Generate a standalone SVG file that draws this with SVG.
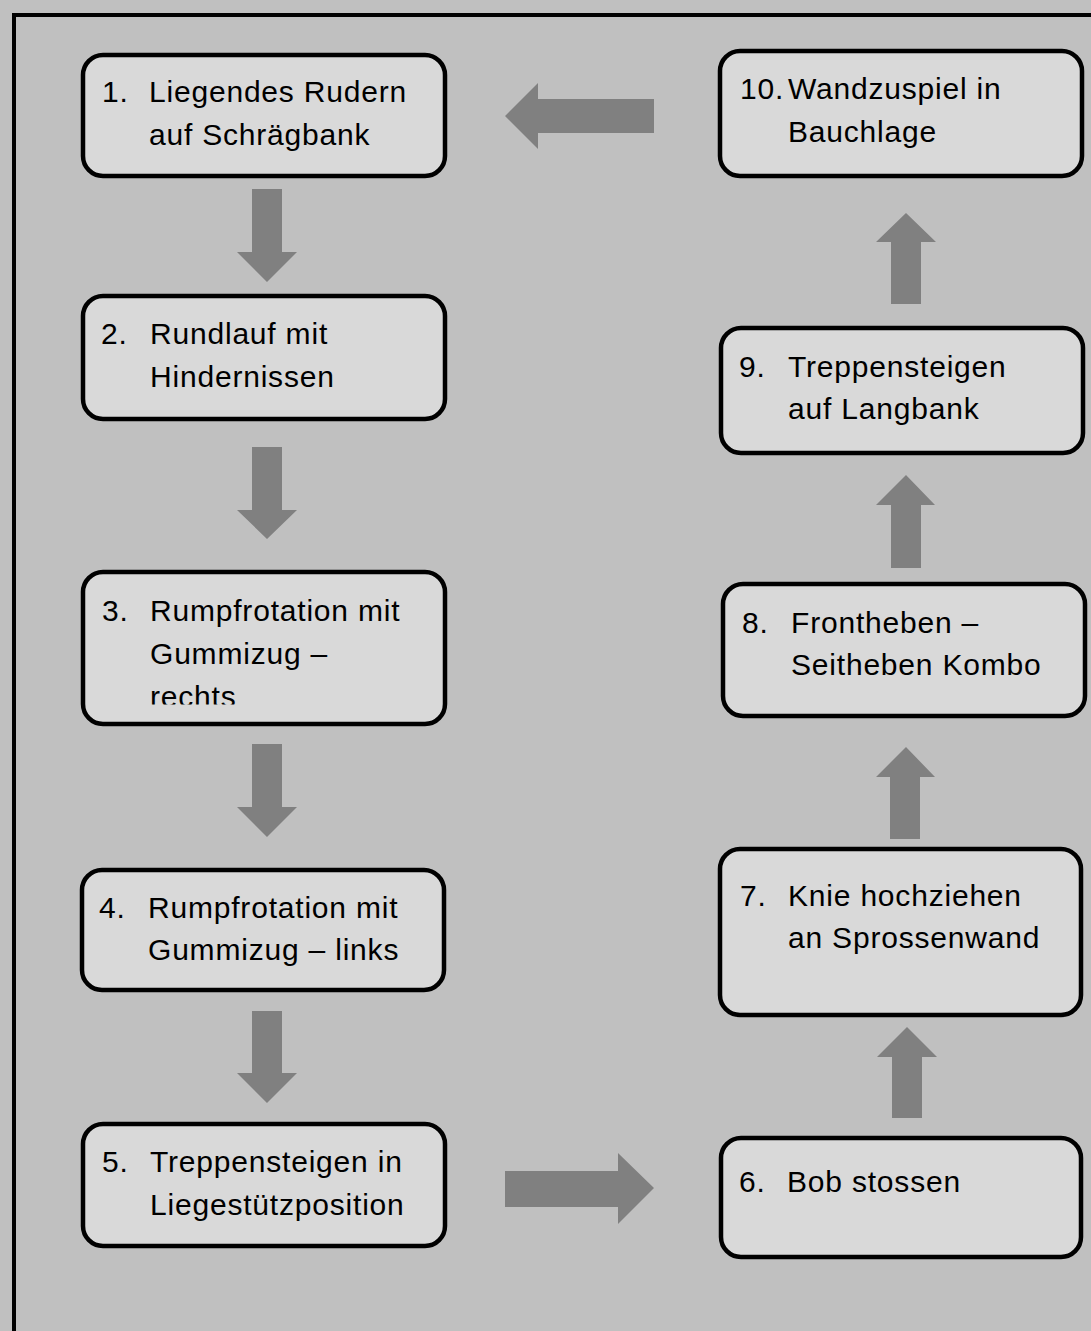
<svg xmlns="http://www.w3.org/2000/svg" width="1091" height="1331" viewBox="0 0 1091 1331">
<style>
.bg{fill:#c0c0c0}
.frame{fill:none;stroke:#000;stroke-width:4}
.box{fill:#d9d9d9;stroke:#000;stroke-width:4.5}
.t{font-family:"Liberation Sans",Arial,sans-serif;font-size:30px;fill:#000;letter-spacing:0.8px}
.arr{fill:#808080}
</style>
<defs>
<clipPath id="clip3"><rect x="83" y="572" width="362" height="132.5"/></clipPath>
</defs>
<rect class="bg" x="0" y="0" width="1091" height="1331"/>
<path class="frame" d="M14,1335 V15 H1095"/>
<g id="connectors">
<polygon class="arr" points="252,189 282,189 282,252 297,252 267,282 237,252 252,252"/>
<polygon class="arr" points="252,447 282,447 282,510 297,510 267,539 237,510 252,510"/>
<polygon class="arr" points="252,744 282,744 282,807 297,807 267,837 237,807 252,807"/>
<polygon class="arr" points="252,1011 282,1011 282,1073 297,1073 267,1103 237,1073 252,1073"/>
<polygon class="arr" points="505,1171 618,1171 618,1153 654,1188 618,1224 618,1207 505,1207"/>
<polygon class="arr" points="892,1118 922,1118 922,1057 937,1057 907,1027 877,1057 892,1057"/>
<polygon class="arr" points="890,839 920,839 920,777 935,777 906,747 876,777 890,777"/>
<polygon class="arr" points="891,568 921,568 921,505 935,505 906,475 876,505 891,505"/>
<polygon class="arr" points="891,304 921,304 921,242 936,242 906,213 876,242 891,242"/>
<polygon class="arr" points="654,99 538,99 538,83 505,116 538,149 538,133 654,133"/>
</g>
<g id="node1">
<rect class="box" x="83" y="55" width="362" height="121" rx="20"/>
<text class="t" x="102" y="102">1.</text>
<text class="t" x="149" y="102">Liegendes Rudern</text>
<text class="t" x="149" y="145">auf Schrägbank</text>
</g>
<g id="node2">
<rect class="box" x="83" y="296" width="362" height="123" rx="20"/>
<text class="t" x="101" y="344">2.</text>
<text class="t" x="150" y="344">Rundlauf mit</text>
<text class="t" x="150" y="387">Hindernissen</text>
</g>
<g id="node3">
<rect class="box" x="83" y="572" width="362" height="152" rx="20"/>
<text class="t" x="102" y="621">3.</text>
<text class="t" x="150" y="621">Rumpfrotation mit</text>
<text class="t" x="150" y="664">Gummizug –</text>
<text class="t" x="150" y="707" clip-path="url(#clip3)">rechts</text>
</g>
<g id="node4">
<rect class="box" x="82" y="870" width="362" height="120" rx="20"/>
<text class="t" x="99" y="918">4.</text>
<text class="t" x="148" y="918">Rumpfrotation mit</text>
<text class="t" x="148" y="960">Gummizug – links</text>
</g>
<g id="node5">
<rect class="box" x="83" y="1124" width="362" height="122" rx="20"/>
<text class="t" x="102" y="1172">5.</text>
<text class="t" x="150" y="1172">Treppensteigen in</text>
<text class="t" x="150" y="1215">Liegestützposition</text>
</g>
<g id="node6">
<rect class="box" x="721" y="1138" width="360" height="119" rx="20"/>
<text class="t" x="739" y="1192">6.</text>
<text class="t" x="787" y="1192">Bob stossen</text>
</g>
<g id="node7">
<rect class="box" x="720" y="849" width="361" height="166" rx="20"/>
<text class="t" x="740" y="906">7.</text>
<text class="t" x="788" y="906">Knie hochziehen</text>
<text class="t" x="788" y="948">an Sprossenwand</text>
</g>
<g id="node8">
<rect class="box" x="723" y="584" width="362" height="132" rx="20"/>
<text class="t" x="742" y="633">8.</text>
<text class="t" x="791" y="633">Frontheben –</text>
<text class="t" x="791" y="675">Seitheben Kombo</text>
</g>
<g id="node9">
<rect class="box" x="721" y="328" width="362" height="125" rx="20"/>
<text class="t" x="739" y="377">9.</text>
<text class="t" x="788" y="377">Treppensteigen</text>
<text class="t" x="788" y="419">auf Langbank</text>
</g>
<g id="node10">
<rect class="box" x="720" y="51" width="362" height="125" rx="20"/>
<text class="t" x="740" y="99">10.</text>
<text class="t" x="788" y="99">Wandzuspiel in</text>
<text class="t" x="788" y="142">Bauchlage</text>
</g>
</svg>
